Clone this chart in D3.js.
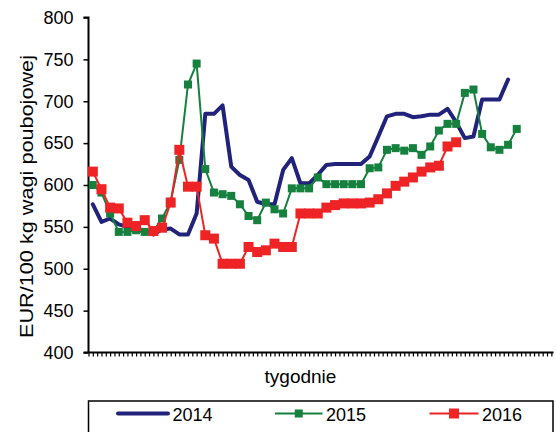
<!DOCTYPE html>
<html>
<head>
<meta charset="utf-8">
<script src="https://cdnjs.cloudflare.com/ajax/libs/d3/7.8.5/d3.min.js"></script>
<style>
  html, body { margin: 0; padding: 0; background: #fff; }
  svg { display: block; font-family: "Liberation Sans", Arial, sans-serif; }
</style>
</head>
<body>
<svg id="chart" width="556" height="432"></svg>
<script>
// ---- data ----
const seriesNames = ["2014", "2015", "2016"];
const yTicks = [400, 450, 500, 550, 600, 650, 700, 750, 800];
const values2014 = [577, 556, 560, 553, 550, 545, 546, 541, 547, 548, 541, 541, 566, 685, 685, 695,
  622, 612, 606, 580, 577, 577, 618, 632, 602, 602, 612, 624, 625, 625, 625, 625, 634, 658, 682,
  685, 685, 681, 682, 684, 684, 691, 675, 656, 658, 702, 702, 702, 726];
const values2015 = [600, 591, 566, 544, 544, 546, 544, 545, 560, 580, 630, 720, 745, 619, 591, 589,
  587, 577, 563, 558, 579, 571, 566, 596, 596, 596, 609, 601, 601, 601, 601, 601, 620, 621, 642,
  644, 641, 644, 636, 646, 665, 673, 673, 710, 714, 661, 645, 642, 648, 667];
const values2016 = [616, 595, 573, 572, 555, 551, 558, 545, 549, 579, 642, 598, 598, 540, 536, 506,
  506, 506, 526, 520, 522, 530, 526, 526, 566, 566, 566, 573, 576, 578, 578, 578, 579, 583, 590,
  599, 604, 609, 616, 621, 623, 646, 651];

(function () {
const svg = d3.select("#chart");
const mLeft = 88.5, mRight = 553.5, mTop = 17.5, mBottom = 352.5;

const x = d3.scaleLinear().domain([-0.5, 53.25]).range([mLeft, mRight]);
const y = d3.scaleLinear().domain([400, 800]).range([mBottom, mTop]);

// y axis
const yAxis = d3.axisLeft(y).tickValues(yTicks).tickSize(5).tickPadding(10).tickFormat(d3.format("d"));
const gy = svg.append("g").attr("transform", `translate(${mLeft},0)`).call(yAxis);
gy.select(".domain").attr("stroke", "#000").attr("stroke-width", 2).attr("d", `M-5,${mTop}H0V${mBottom}`);
gy.selectAll(".tick line").attr("stroke", "#000").attr("stroke-width", 1.5);
gy.selectAll(".tick text").attr("font-size", 18).attr("fill", "#000")
  .attr("font-family", "'Liberation Sans', Arial, sans-serif");

// x axis with minor ticks every half week
const xTickVals = d3.range(0, 108).map(k => -0.5 + k * 0.5);
const xAxis = d3.axisBottom(x).tickValues(xTickVals).tickSize(4).tickFormat("");
const gx = svg.append("g").attr("transform", `translate(0,${mBottom})`).call(xAxis);
gx.select(".domain").attr("stroke", "#000").attr("stroke-width", 2).attr("d", `M${mLeft - 5},0H${mRight}`);
gx.selectAll(".tick line").attr("stroke", "#000").attr("stroke-width", 1.2);

// axis titles
svg.append("text")
  .attr("transform", `translate(33,${(55 + 338) / 2}) rotate(-90)`)
  .attr("text-anchor", "middle")
  .attr("font-size", 18)
  .attr("textLength", 283)
  .attr("lengthAdjust", "spacingAndGlyphs")
  .attr("fill", "#000")
  .text("EUR/100 kg wagi poubojowej");

svg.append("text")
  .attr("x", 300.5).attr("y", 383)
  .attr("text-anchor", "middle")
  .attr("font-size", 19)
  .attr("fill", "#000")
  .text("tygodnie");

const line = d3.line().x((d, i) => x(i)).y(d => y(d));

const colors = { "2014": "#21237A", "2015": "#16803F", "2016": "#EE2325" };

// 2014
svg.append("path").datum(values2014)
  .attr("d", line).attr("fill", "none")
  .attr("stroke", colors["2014"]).attr("stroke-width", 4).attr("stroke-linejoin", "round").attr("stroke-linecap", "round");

// 2015
svg.append("path").datum(values2015)
  .attr("d", line).attr("fill", "none")
  .attr("stroke", colors["2015"]).attr("stroke-width", 2);
svg.append("g").selectAll("rect").data(values2015).join("rect")
  .attr("x", (d, i) => x(i) - 4).attr("y", d => y(d) - 4)
  .attr("width", 8).attr("height", 8).attr("fill", colors["2015"]);

// 2016
svg.append("path").datum(values2016)
  .attr("d", line).attr("fill", "none")
  .attr("stroke", colors["2016"]).attr("stroke-width", 2);
svg.append("g").selectAll("rect").data(values2016).join("rect")
  .attr("x", (d, i) => x(i) - 5).attr("y", d => y(d) - 5)
  .attr("width", 10).attr("height", 10).attr("fill", colors["2016"]);

// legend
const lg = svg.append("g");
lg.append("rect").attr("x", 88.5).attr("y", 401).attr("width", 464.5).attr("height", 40)
  .attr("fill", "#fff").attr("stroke", "#000").attr("stroke-width", 1.5);
const legendItems = [
  { name: seriesNames[0], x1: 118, x2: 168, tx: 172.5, marker: 0, w: 4 },
  { name: seriesNames[1], x1: 275, x2: 322.5, tx: 326, marker: 8, w: 2 },
  { name: seriesNames[2], x1: 429.5, x2: 478.5, tx: 482, marker: 10, w: 2 }
];
const ly = 413.5;
legendItems.forEach(it => {
  lg.append("line").attr("x1", it.x1).attr("x2", it.x2).attr("y1", ly).attr("y2", ly)
    .attr("stroke", colors[it.name]).attr("stroke-width", it.w).attr("stroke-linecap", it.marker ? "butt" : "round");
  if (it.marker) {
    const cx = (it.x1 + it.x2) / 2;
    lg.append("rect").attr("x", cx - it.marker / 2).attr("y", ly - it.marker / 2)
      .attr("width", it.marker).attr("height", it.marker).attr("fill", colors[it.name]);
  }
  lg.append("text").attr("x", it.tx).attr("y", ly + 7).attr("font-size", 18).attr("fill", "#000").text(it.name);
});
})();
</script>
</body>
</html>
